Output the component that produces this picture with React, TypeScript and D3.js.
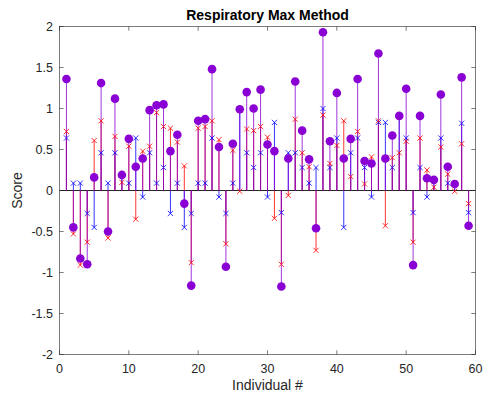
import React from "react";
import * as d3 from "d3";

const individuals = d3.range(1, 60);
const purpleVals = [1.36, -0.45, -0.83, -0.90, 0.16, 1.31, -0.50, 1.12, 0.19, 0.63, 0.29, 0.39, 0.98, 1.04, 1.05, 0.48, 0.68, -0.16, -1.16, 0.85, 0.87, 1.48, 0.53, -0.93, 0.57, 0.99, 1.20, 1.00, 1.23, 0.56, 0.48, -1.17, 0.39, 1.33, 0.73, 0.38, -0.46, 1.93, 0.60, 1.19, 0.39, 0.63, 1.36, 0.36, 0.33, 1.67, 0.39, 0.67, 0.91, 1.24, -0.91, 0.91, 0.15, 0.13, 1.17, 0.29, 0.08, 1.38, -0.43];
const redVals = [0.72, -0.53, -0.91, -0.63, 0.61, 0.85, -0.58, 0.66, 0.10, 0.54, -0.35, 0.48, 0.54, 0.95, 0.78, 0.76, 0.59, 0.30, -0.88, 0.76, 0.78, 0.85, 0.62, -0.65, 0.49, -0.01, 0.75, 0.73, 0.78, 0.65, -0.34, -0.90, -0.06, 0.87, 0.46, 0.29, -0.73, 0.92, 0.33, 0.55, 0.85, 0.17, 0.72, 0.08, 0.41, 0.85, -0.43, 0.40, 0.46, 0.60, -0.63, 0.64, 0.25, 0.04, 0.53, 0.20, -0.01, 0.57, -0.16];
const blueVals = [0.64, 0.09, 0.09, -0.28, -0.45, 0.46, 0.09, 0.46, 0.19, 0.09, 0.64, -0.08, 0.46, 0.09, 0.28, -0.28, 0.09, -0.45, -0.28, 0.09, 0.09, 0.64, -0.08, -0.28, 0.09, 0.99, 0.46, 0.28, 0.46, -0.08, 0.83, -0.27, 0.46, 0.46, 0.28, 0.09, 0.28, 1.00, 0.28, 0.64, -0.45, 0.46, 0.64, 0.28, -0.08, 0.83, 0.83, 0.28, 0.91, 0.64, -0.27, 0.28, -0.08, 0.13, 0.64, 0.09, 0.08, 0.82, -0.27];
const xTicks = [0, 10, 20, 30, 40, 50, 60];
const yTicks = [-2, -1.5, -1, -0.5, 0, 0.5, 1, 1.5, 2];
const title = "Respiratory Max Method";
const xLabel = "Individual #";
const yLabel = "Score";

const W = 485, H = 399;
const L = 59.5, R = 475.5, T = 26.5, B = 354.5;
const PURPLE = "#8a00d4";
const RED = "#ff0000";
const BLUE = "#0000ff";
const AX = "#262626";
const FONT = "'Liberation Sans', Arial, Helvetica, sans-serif";

export default function App() {
  const x = d3.scaleLinear().domain([0, 60]).range([L, R]);
  const y = d3.scaleLinear().domain([-2, 2]).range([B, T]);
  const y0 = y(0);
  const tl = 4.2;

  const stems = (vals: number[], color: string, w: number) =>
    vals.map((v, i) => (
      <line key={i} x1={x(individuals[i])} x2={x(individuals[i])} y1={y0} y2={y(v)} stroke={color} strokeWidth={w} />
    ));
  const crosses = (vals: number[], color: string) =>
    vals.map((v, i) => {
      const cx = x(individuals[i]), cy = y(v), s = 2.6;
      return (
        <path key={i} d={`M${cx - s},${cy - s}L${cx + s},${cy + s}M${cx - s},${cy + s}L${cx + s},${cy - s}`} stroke={color} strokeWidth={0.8} fill="none" />
      );
    });

  return (
    <svg width={W} height={H} style={{ position: "absolute", left: 0, top: 0, background: "#fff" }}>
      <rect x={0} y={0} width={W} height={H} fill="#fff" />
      <line x1={L} x2={R} y1={y0} y2={y0} stroke={AX} strokeWidth={1} />
      <g>{stems(blueVals, BLUE, 0.8)}</g>
      <g>{stems(redVals, RED, 0.8)}</g>
      <g>{stems(purpleVals, PURPLE, 0.8)}</g>
      <g>{crosses(blueVals, BLUE)}</g>
      <g>{crosses(redVals, RED)}</g>
      <g>
        {purpleVals.map((v, i) => (
          <circle key={i} cx={x(individuals[i])} cy={y(v)} r={4.3} fill={PURPLE} />
        ))}
      </g>
      <rect x={L} y={T} width={R - L} height={B - T} fill="none" stroke={AX} strokeWidth={0.6} />
      {xTicks.map((t) => (
        <g key={"x" + t}>
          <line x1={x(t)} x2={x(t)} y1={B} y2={B - tl} stroke={AX} strokeWidth={0.6} />
          <line x1={x(t)} x2={x(t)} y1={T} y2={T + tl} stroke={AX} strokeWidth={0.6} />
          <text x={x(t)} y={373} textAnchor="middle" fontFamily={FONT} fontSize={12.5} fill={AX}>{t}</text>
        </g>
      ))}
      {yTicks.map((t) => (
        <g key={"y" + t}>
          <line x1={L} x2={L + tl} y1={y(t)} y2={y(t)} stroke={AX} strokeWidth={0.6} />
          <line x1={R} x2={R - tl} y1={y(t)} y2={y(t)} stroke={AX} strokeWidth={0.6} />
          <text x={53} y={y(t) + 4.5} textAnchor="end" fontFamily={FONT} fontSize={12.5} fill={AX}>{String(t)}</text>
        </g>
      ))}
      <text x={(L + R) / 2} y={20} textAnchor="middle" fontFamily={FONT} fontSize={14} fontWeight="bold" fill="#000">{title}</text>
      <text x={(L + R) / 2} y={390} textAnchor="middle" fontFamily={FONT} fontSize={14} fill={AX}>{xLabel}</text>
      <text transform={`translate(22,${(T + B) / 2}) rotate(-90)`} textAnchor="middle" fontFamily={FONT} fontSize={14} fill={AX}>{yLabel}</text>
    </svg>
  );
}
